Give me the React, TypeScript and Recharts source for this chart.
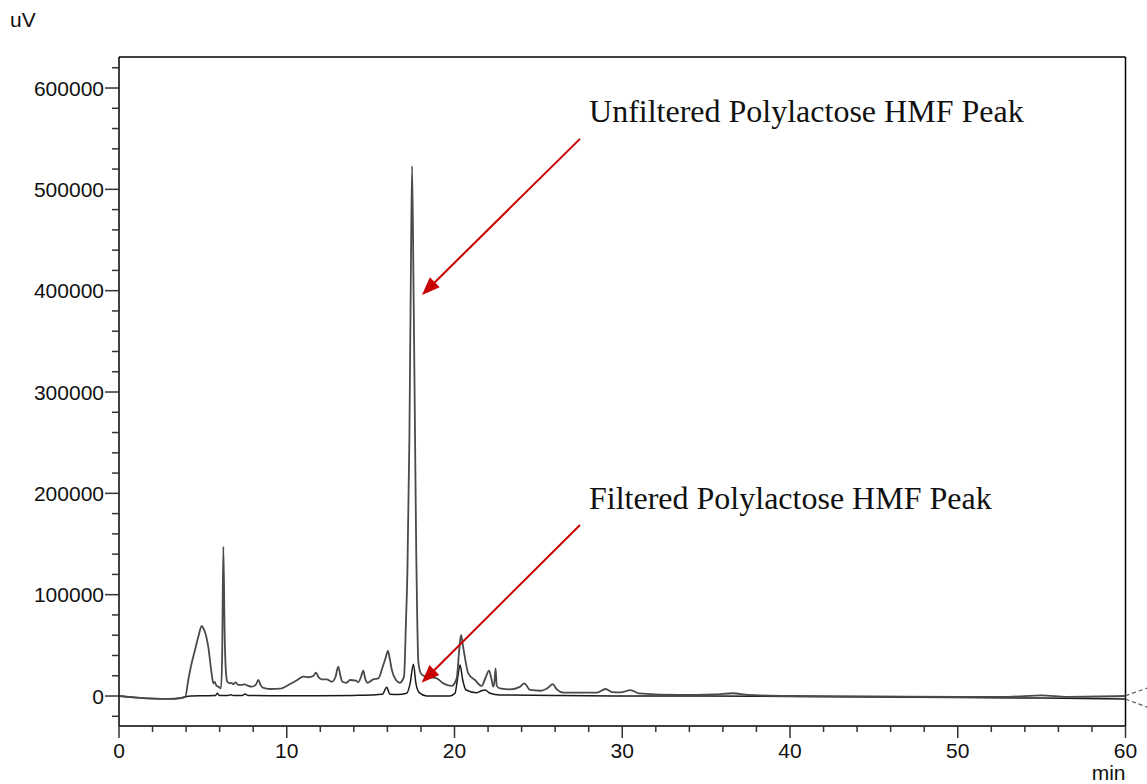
import React from "react";
import {
  LineChart,
  Line,
  XAxis,
  YAxis,
  ReferenceLine,
  ReferenceDot,
  Label,
} from "recharts";

// retention time (min) / detector signal (uV)
const unfilteredTime = [
  0, 1, 2, 3, 3.6, 3.95, 4.13, 4.33, 4.53, 4.75, 4.93, 5.05, 5.13, 5.32, 5.52,
  5.62, 5.7, 5.8, 5.92, 6.08, 6.15, 6.22, 6.3, 6.38, 6.46, 6.62, 6.7, 6.82,
  6.95, 7.1, 7.31, 7.5, 7.7, 7.91, 8.15, 8.31, 8.45, 8.57, 9.0, 9.6, 10.19,
  10.6, 10.99, 11.3, 11.58, 11.74, 11.9, 12.08, 12.38, 12.68, 12.9, 13.07,
  13.2, 13.31, 13.57, 13.77, 14.13, 14.25, 14.42, 14.56, 14.68, 14.8, 15.16,
  15.46, 15.72, 15.9, 16.03, 16.15, 16.26, 16.51, 16.75, 16.99, 17.11, 17.19,
  17.31, 17.39, 17.47, 17.56, 17.65, 17.72, 17.78, 17.84, 17.95, 18.1, 18.5,
  18.94, 19.34, 19.83, 20.13, 20.28, 20.39, 20.5, 20.63, 20.82, 21.22, 21.62,
  21.85, 22.06, 22.2, 22.31, 22.38, 22.45, 22.52, 22.71, 23.31, 23.9, 24.16,
  24.5, 25.1, 25.6, 25.85, 26.1, 26.49, 28.5, 29.0, 29.4, 29.9, 30.5, 31.0,
  33.4, 35.5, 36.6, 37.5, 40, 45, 50, 53, 55, 56.5, 60,
];
const unfilteredSignal = [
  0, -1500, -2500, -2800, -2200, -800, 15800, 32300, 45400, 60000, 69100,
  66000, 63000, 48700, 22400, 12500, 14000, 10500, 9200, 7600, 40000, 147400,
  60000, 22400, 14100, 12500, 13000, 11500, 13500, 11000, 10900, 11500, 10000,
  9200, 11000, 15800, 10500, 8200, 6900, 7200, 11800, 15500, 19100, 18500,
  19700, 23000, 18500, 16500, 16500, 14100, 18500, 28900, 20000, 14100, 13100,
  15800, 15100, 13500, 18500, 25000, 17000, 13100, 16500, 17400, 28900, 38000,
  44500, 36000, 26000, 15800, 13100, 19100, 75000, 121000, 253000, 400000,
  523000, 400000, 253000, 140000, 75000, 35000, 24000, 20500, 18500, 17400,
  12500, 9900, 17400, 45000, 60200, 50000, 37200, 22400, 15800, 9900, 18000,
  25000, 17000, 9200, 14000, 27300, 10000, 7600, 6600, 9000, 12500, 6000, 5200,
  8500, 11800, 6500, 3300, 3300, 6900, 3800, 3500, 5900, 2500, 1000, 1500,
  2700, 1000, 0, -500, -1000, -800, 700, -800, 0,
];

const filteredTime = [
  0, 1, 2, 3, 3.6, 3.95, 4.3, 5.0, 5.75, 5.86, 5.98, 6.5, 6.66, 6.8, 7.35,
  7.51, 7.7, 9, 12, 14, 15, 15.7, 15.96, 16.15, 16.6, 17.15, 17.35, 17.55,
  17.7, 17.9, 18.34, 19.73, 20.03, 20.17, 20.33, 20.49, 20.69, 21.32, 21.62,
  21.82, 22.12, 22.71, 26, 30, 35, 40, 45, 50, 55, 60,
];
const filteredSignal = [
  0, -1500, -2500, -2800, -2200, -800, 0, 300, 500, 2700, 500, 500, 1300, 500,
  500, 2000, 500, 300, 300, 600, 1000, 1700, 8600, 1700, 1500, 2700, 12000,
  31300, 12500, 3300, 0, 0, 2700, 15800, 30600, 15800, 5900, 3300, 5200, 5900,
  2700, 1000, 500, 0, 0, -500, -1000, -1500, -2000, -3000,
];

const xTicks = [
  0, 2, 4, 6, 8, 10, 12, 14, 16, 18, 20, 22, 24, 26, 28, 30, 32, 34, 36, 38, 40,
  42, 44, 46, 48, 50, 52, 54, 56, 58, 60,
];
const xLabelTicks = [0, 10, 20, 30, 40, 50, 60];
const yTicks = [
  -20000, 0, 20000, 40000, 60000, 80000, 100000, 120000, 140000, 160000,
  180000, 200000, 220000, 240000, 260000, 280000, 300000, 320000, 340000,
  360000, 380000, 400000, 420000, 440000, 460000, 480000, 500000, 520000,
  540000, 560000, 580000, 600000, 620000,
];
const yLabelTicks = [0, 100000, 200000, 300000, 400000, 500000, 600000];

const unfiltered = unfilteredTime.map((t, i) => ({ t, v: unfilteredSignal[i] }));
const filtered = filteredTime.map((t, i) => ({ t, v: filteredSignal[i] }));

const Y_MIN = -29600;
const Y_MAX = 630600;
const SANS = "'Liberation Sans', Arial, sans-serif";
const SERIF = "'Liberation Serif', 'Times New Roman', serif";
const RED = "#c80000";

const YTick = (props: any) => {
  const { x, y, payload } = props;
  const major = yLabelTicks.includes(payload.value);
  return (
    <g>
      <line x1={x - (major ? 14 : 7)} x2={x} y1={y} y2={y} stroke="#333" strokeWidth={1.5} />
      {major && (
        <text x={x - 15} y={y + 7.5} textAnchor="end" fontSize={21} fontFamily={SANS} fill="#111">
          {payload.value}
        </text>
      )}
    </g>
  );
};

const XTick = (props: any) => {
  const { x, y, payload } = props;
  const major = xLabelTicks.includes(payload.value);
  return (
    <g>
      <line x1={x} x2={x} y1={y} y2={y + (major ? 12 : 6)} stroke="#333" strokeWidth={1.5} />
      {major && (
        <text x={x} y={y + 32} textAnchor="middle" fontSize={21} fontFamily={SANS} fill="#111">
          {payload.value}
        </text>
      )}
    </g>
  );
};

const Arrow = (props: any) => {
  const { x1, y1, x2, y2 } = props;
  const dx = x2 - x1;
  const dy = y2 - y1;
  const len = Math.hypot(dx, dy) || 1;
  const ux = dx / len;
  const uy = dy / len;
  const head = 18;
  const half = 7;
  const bx = x2 - ux * head;
  const by = y2 - uy * head;
  return (
    <g>
      <line x1={x1} y1={y1} x2={bx + ux * 2} y2={by + uy * 2} stroke={RED} strokeWidth={2} />
      <polygon
        points={`${x2},${y2} ${bx - uy * half},${by + ux * half} ${bx + uy * half},${by - ux * half}`}
        fill={RED}
      />
    </g>
  );
};

const textShape = (label: string) => (p: any) =>
  (
    <text x={p.cx} y={p.cy} fontSize={32} fontFamily={SERIF} fill="#111">
      {label}
    </text>
  );

const DashTail = (props: any) => (
  <line
    x1={props.x1}
    y1={props.y1}
    x2={props.x2}
    y2={props.y2}
    stroke="#555"
    strokeWidth={1.2}
    strokeDasharray="4 3"
  />
);

export default function App() {
  return (
    <div style={{ position: "absolute", left: 0, top: 0, background: "#fff" }}>
      <LineChart width={1147} height={784} margin={{ top: 57, right: 21.5, left: 0, bottom: 0 }}>
        <XAxis
          dataKey="t"
          type="number"
          domain={[0, 60]}
          ticks={xTicks}
          interval={0}
          height={58}
          tickSize={0}
          tickMargin={0}
          tick={<XTick />}
          axisLine={{ stroke: "#000", strokeWidth: 1.5 }}
        >
          <Label
            content={(p: any) => (
              <text
                x={p.viewBox.x + p.viewBox.width}
                y={p.viewBox.y + 54}
                textAnchor="end"
                fontSize={21}
                fontFamily={SANS}
                fill="#111"
              >
                min
              </text>
            )}
          />
        </XAxis>
        <YAxis
          type="number"
          domain={[Y_MIN, Y_MAX]}
          allowDataOverflow
          ticks={yTicks}
          interval={0}
          width={119}
          tickSize={0}
          tickMargin={0}
          tick={<YTick />}
          axisLine={{ stroke: "#000", strokeWidth: 1.5 }}
        >
          <Label
            content={(p: any) => (
              <text x={p.viewBox.x + 10} y={p.viewBox.y - 30} fontSize={21} fontFamily={SANS} fill="#111">
                uV
              </text>
            )}
          />
        </YAxis>
        <ReferenceLine y={Y_MAX} stroke="#000" strokeWidth={1.5} />
        <ReferenceLine x={60} stroke="#000" strokeWidth={1.5} />
        <ReferenceLine
          segment={[{ x: 60, y: 300 }, { x: 61.3, y: 7900 }]}
          ifOverflow="visible"
          shape={<DashTail />}
        />
        <ReferenceLine
          segment={[{ x: 60, y: -3000 }, { x: 61.3, y: -11000 }]}
          ifOverflow="visible"
          shape={<DashTail />}
        />
        <Line
          data={filtered}
          dataKey="v"
          type="monotone"
          stroke="#1a1a1a"
          strokeWidth={1.5}
          dot={false}
          activeDot={false}
          isAnimationActive={false}
        />
        <Line
          data={unfiltered}
          dataKey="v"
          type="monotone"
          stroke="#4a4a4a"
          strokeWidth={1.8}
          dot={false}
          activeDot={false}
          isAnimationActive={false}
        />
        <ReferenceLine
          segment={[{ x: 27.48, y: 549800 }, { x: 18.06, y: 395800 }]}
          ifOverflow="visible"
          shape={<Arrow />}
        />
        <ReferenceLine
          segment={[{ x: 27.48, y: 168800 }, { x: 18.04, y: 13100 }]}
          ifOverflow="visible"
          shape={<Arrow />}
        />
        <ReferenceDot
          x={28.02}
          y={566500}
          r={0}
          ifOverflow="visible"
          shape={textShape("Unfiltered Polylactose HMF Peak")}
        />
        <ReferenceDot
          x={28.02}
          y={184500}
          r={0}
          ifOverflow="visible"
          shape={textShape("Filtered Polylactose HMF Peak")}
        />
      </LineChart>
    </div>
  );
}
